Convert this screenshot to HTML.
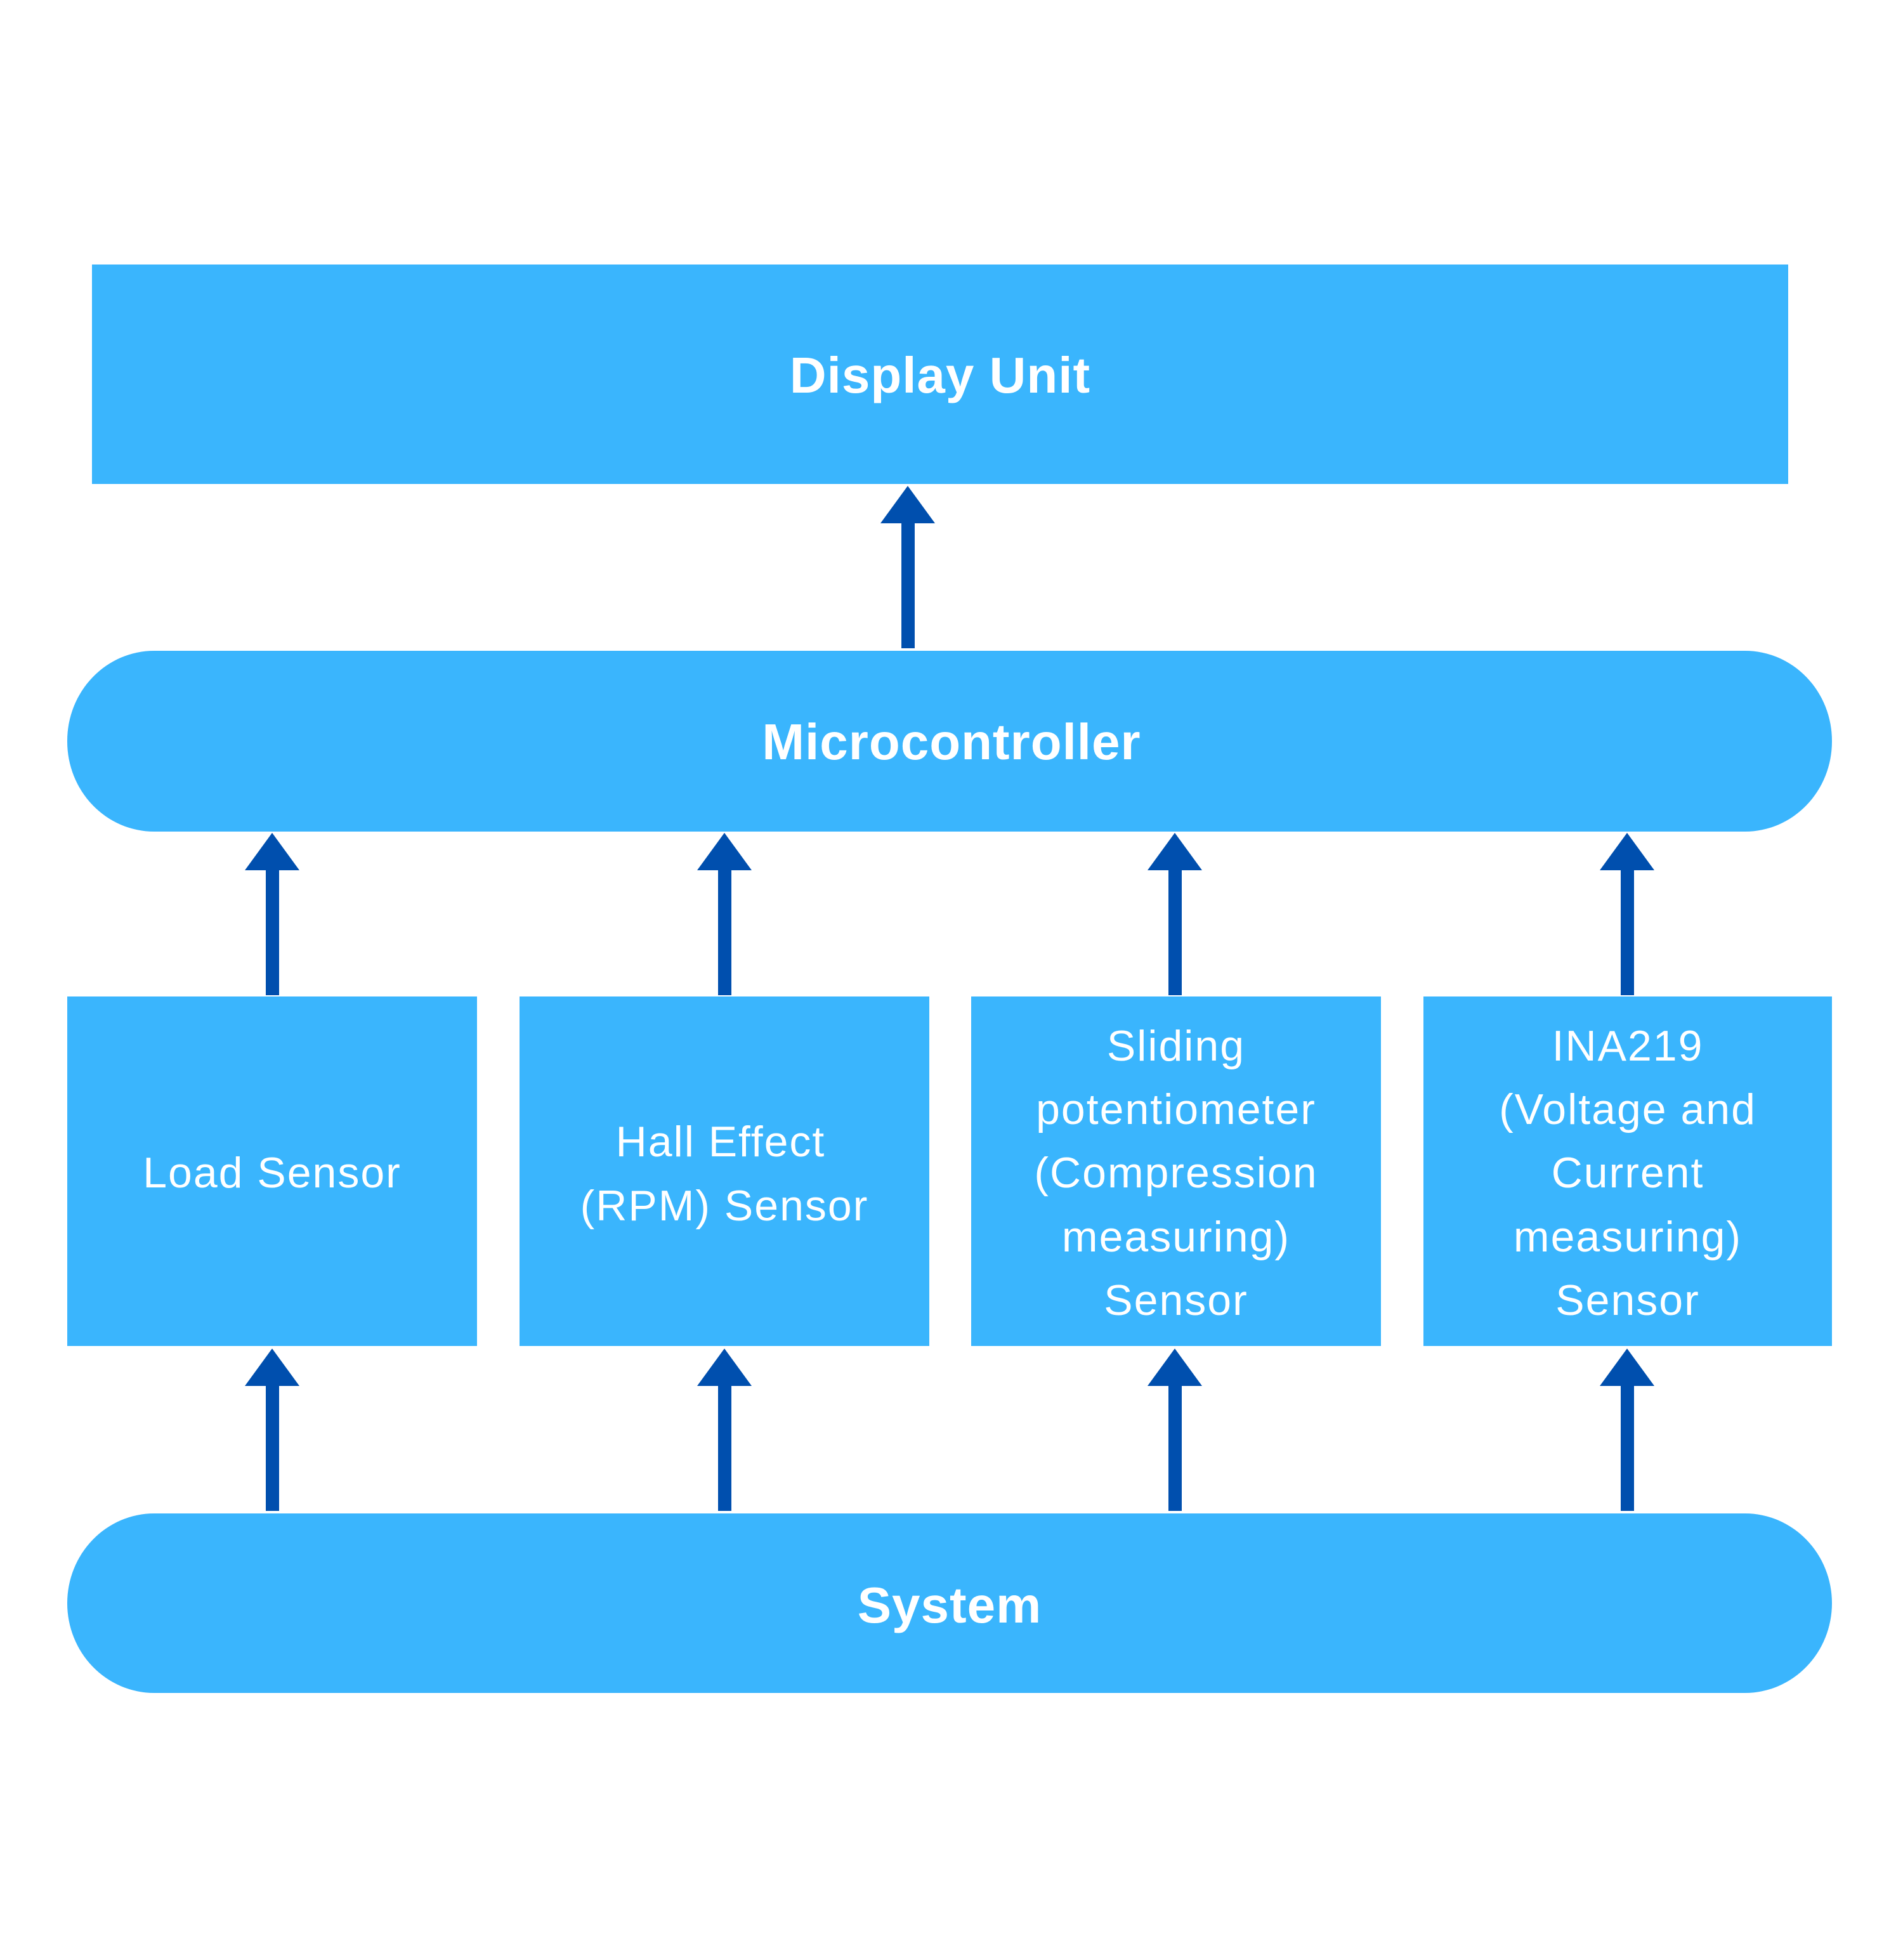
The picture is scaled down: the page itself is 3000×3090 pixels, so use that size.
<!DOCTYPE html>
<html><head><meta charset="utf-8"><style>
html,body{margin:0;padding:0;background:#fff}
svg{display:block}
.b{font-family:"Liberation Sans",sans-serif;font-weight:bold;font-size:80px;fill:#fff;text-anchor:middle;letter-spacing:1px}
.n{font-family:"Liberation Sans",sans-serif;font-size:68px;fill:#fff;text-anchor:middle;letter-spacing:2px}
</style></head><body>
<svg width="3000" height="3090" viewBox="0 0 3000 3090" xmlns="http://www.w3.org/2000/svg">
<rect width="3000" height="3090" fill="#fff"/>
<g fill="#3ab5fd">
<rect x="145" y="417" width="2674" height="346"/>
<rect x="106" y="1026" width="2782" height="285" rx="137" ry="142"/>
<rect x="106" y="1571" width="646" height="551"/>
<rect x="819" y="1571" width="646" height="551"/>
<rect x="1531" y="1571" width="646" height="551"/>
<rect x="2244" y="1571" width="644" height="551"/>
<rect x="106" y="2386" width="2782" height="283" rx="137" ry="142"/>
</g>
<g fill="#004fae">
<polygon points="1431,766 1474,825 1388,825"/><rect x="1421" y="824" width="21" height="198"/>
<polygon points="429,1313 472,1372 386,1372"/><rect x="419" y="1371" width="21" height="198"/>
<polygon points="1142,1313 1185,1372 1099,1372"/><rect x="1132" y="1371" width="21" height="198"/>
<polygon points="1852,1313 1895,1372 1809,1372"/><rect x="1842" y="1371" width="21" height="198"/>
<polygon points="2565,1313 2608,1372 2522,1372"/><rect x="2555" y="1371" width="21" height="198"/>
<polygon points="429,2126 472,2185 386,2185"/><rect x="419" y="2184" width="21" height="198"/>
<polygon points="1142,2126 1185,2185 1099,2185"/><rect x="1132" y="2184" width="21" height="198"/>
<polygon points="1852,2126 1895,2185 1809,2185"/><rect x="1842" y="2184" width="21" height="198"/>
<polygon points="2565,2126 2608,2185 2522,2185"/><rect x="2555" y="2184" width="21" height="198"/>
</g>
<text class="b" x="1482" y="619">Display Unit</text>
<text class="b" x="1500" y="1197">Microcontroller</text>
<text class="b" x="1497" y="2558">System</text>
<text class="n" x="429" y="1872">Load Sensor</text>
<text class="n" x="1136" y="1823">Hall Effect</text>
<text class="n" x="1142" y="1924">(RPM) Sensor</text>
<text class="n" x="1854" y="1672">Sliding</text>
<text class="n" x="1854" y="1772">potentiometer</text>
<text class="n" x="1854" y="1872">(Compression</text>
<text class="n" x="1854" y="1973">measuring)</text>
<text class="n" x="1854" y="2073">Sensor</text>
<text class="n" x="2566" y="1672">INA219</text>
<text class="n" x="2566" y="1772">(Voltage and</text>
<text class="n" x="2566" y="1872">Current</text>
<text class="n" x="2566" y="1973">measuring)</text>
<text class="n" x="2566" y="2073">Sensor</text>
</svg>
</body></html>
